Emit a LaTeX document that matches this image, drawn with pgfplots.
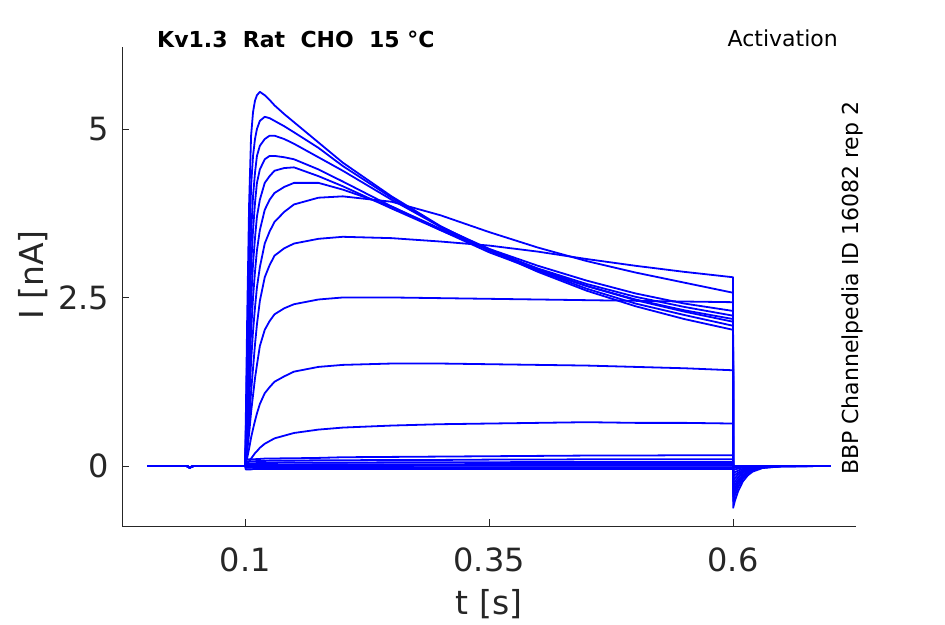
\documentclass[border=0pt]{standalone}
\usepackage{pgfplots}
\pgfplotsset{compat=1.18}
\usepackage{pgfplotstable}
\usepackage{fontspec}
\setmainfont{DejaVu Sans}
\definecolor{tc}{RGB}{38,38,38}
\definecolor{tr}{RGB}{0,0,255}

\pgfplotstableread{
x c1 c2 c3 c4 c5 c6 c7 c8 c9 c10 c11 c12 c13 c14 c15 c16 c17 c18
0 0 0 0 0 0 0 0 0 0 0 0 0 0 0 0 0 0 0
0.040 0 0 0 0 0 0 0 0 0 0 0 0 0 0 0 0 0 0
0.043 -0.025 -0.025 -0.02 -0.025 -0.02 -0.025 -0.02 -0.025 -0.02 -0.025 -0.02 -0.025 -0.02 -0.025 -0.02 -0.025 -0.02 -0.025
0.047 0 0 0 0 0 0 0 0 0 0 0 0 0 0 0 0 0 0
0.0999 0 0 0 0 0 0 0 0 0 0 0 0 0 0 0 0 0 0
0.1005 0.6 0.45 0.35 0.28 0.2 0.15 0.12 0.08 0.05 0.03 0.01 0.09 0.06 0.035 0.015 -0.005 -0.025 -0.05
0.102 2.2 1.7 1.3 1.0 0.8 0.6 0.45 0.3 0.22 0.12 0.03 0.095 0.065 0.04 0.015 -0.005 -0.025 -0.05
0.104 3.9 3.1 2.5 2.0 1.6 1.25 0.95 0.65 0.48 0.26 0.07 0.1 0.07 0.04 0.02 0 -0.025 -0.05
0.106 4.9 4.15 3.45 2.95 2.45 2.0 1.55 1.1 0.8 0.42 0.11 0.1 0.07 0.04 0.02 0 -0.025 -0.05
0.108 5.25 4.6 4.0 3.5 3.0 2.5 2.0 1.45 1.05 0.55 0.15 0.1 0.07 0.04 0.02 0 -0.02 -0.045
0.110 5.42 4.85 4.35 3.9 3.38 2.88 2.35 1.8 1.3 0.67 0.19 0.1 0.07 0.04 0.02 0 -0.02 -0.045
0.112 5.5 5.0 4.6 4.2 3.7 3.2 2.65 2.1 1.5 0.78 0.22 0.105 0.075 0.045 0.02 0 -0.02 -0.045
0.115 5.55 5.12 4.75 4.4 3.95 3.5 2.95 2.45 1.78 0.92 0.27 0.105 0.075 0.045 0.02 0 -0.02 -0.045
0.12 5.5 5.18 4.85 4.55 4.2 3.8 3.3 2.8 2.02 1.08 0.33 0.11 0.075 0.045 0.02 0 -0.02 -0.045
0.125 5.43 5.16 4.9 4.6 4.3 3.95 3.48 2.98 2.15 1.17 0.37 0.11 0.08 0.045 0.02 0 -0.02 -0.045
0.13 5.35 5.12 4.9 4.6 4.38 4.05 3.62 3.12 2.25 1.25 0.41 0.11 0.08 0.045 0.02 0 -0.02 -0.045
0.14 5.22 5.04 4.85 4.58 4.42 4.14 3.77 3.23 2.34 1.33 0.45 0.115 0.08 0.05 0.02 0 -0.02 -0.045
0.15 5.1 4.95 4.78 4.55 4.43 4.2 3.88 3.3 2.4 1.4 0.49 0.115 0.08 0.05 0.02 0 -0.02 -0.045
0.175 4.8 4.72 4.58 4.4 4.3 4.2 3.98 3.37 2.47 1.47 0.54 0.12 0.085 0.05 0.025 0 -0.02 -0.045
0.2 4.5 4.45 4.38 4.22 4.15 4.1 4.0 3.4 2.5 1.5 0.57 0.13 0.085 0.05 0.025 0 -0.02 -0.045
0.25 4.0 3.98 3.95 3.85 3.82 3.85 3.92 3.38 2.5 1.52 0.6 0.135 0.09 0.055 0.025 0 -0.02 -0.045
0.3 3.56 3.55 3.55 3.5 3.5 3.52 3.72 3.33 2.49 1.52 0.62 0.14 0.09 0.055 0.025 0.005 -0.02 -0.045
0.35 3.2 3.2 3.22 3.17 3.2 3.22 3.47 3.27 2.48 1.51 0.63 0.145 0.095 0.055 0.03 0.005 -0.02 -0.045
0.4 2.88 2.9 2.92 2.9 2.93 2.97 3.24 3.18 2.47 1.5 0.64 0.15 0.095 0.06 0.03 0.005 -0.02 -0.045
0.45 2.6 2.63 2.67 2.67 2.7 2.75 3.04 3.07 2.46 1.49 0.65 0.155 0.1 0.06 0.03 0.005 -0.02 -0.045
0.5 2.37 2.41 2.46 2.47 2.51 2.56 2.87 2.97 2.45 1.47 0.64 0.155 0.1 0.06 0.03 0.005 -0.02 -0.045
0.55 2.18 2.24 2.29 2.31 2.36 2.41 2.72 2.88 2.44 1.45 0.64 0.16 0.1 0.06 0.03 0.005 -0.02 -0.045
0.6 2.02 2.08 2.14 2.18 2.23 2.3 2.57 2.8 2.43 1.42 0.63 0.16 0.1 0.06 0.03 0.005 -0.02 -0.045
0.6001 -0.62 -0.52 -0.45 -0.4 -0.34 -0.28 -0.22 -0.16 -0.11 -0.06 -0.03 -0.01 0 -0.01 0 0.01 0 -0.01
0.602 -0.51 -0.43 -0.37 -0.33 -0.28 -0.23 -0.18 -0.13 -0.09 -0.05 -0.025 0 0 0 0 0 0 0
0.605 -0.38 -0.32 -0.27 -0.24 -0.21 -0.17 -0.13 -0.10 -0.07 -0.04 -0.02 0 0 0 0 0 0 0
0.61 -0.23 -0.19 -0.17 -0.15 -0.13 -0.10 -0.08 -0.06 -0.04 -0.02 -0.01 0 0 0 0 0 0 0
0.615 -0.14 -0.11 -0.10 -0.09 -0.075 -0.06 -0.05 -0.035 -0.025 -0.013 -0.007 0 0 0 0 0 0 0
0.62 -0.084 -0.07 -0.06 -0.054 -0.046 -0.038 -0.03 -0.022 -0.015 -0.008 -0.004 0 0 0 0 0 0 0
0.63 -0.031 -0.026 -0.022 -0.02 -0.017 -0.014 -0.011 -0.008 -0.006 -0.003 -0.002 0 0 0 0 0 0 0
0.65 -0.004 -0.004 -0.003 -0.003 -0.002 -0.002 -0.002 -0.001 -0.001 0 0 0 0 0 0 0 0 0
0.7 0 0 0 0 0 0 0 0 0 0 0 0 0 0 0 0 0 0
}\traces

\begin{document}
\begin{tikzpicture}
\useasboundingbox (0pt,0pt) rectangle (945pt,624pt);
\begin{axis}[
  at={(122.3pt,98pt)}, anchor=south west,
  scale only axis, width=733.7pt, height=479.3pt,
  xmin=-0.026, xmax=0.726, ymin=-0.89, ymax=6.22,
  axis x line*=bottom, axis y line*=left,
  axis line style={-, color=tc, line width=0.8pt},
  xtick={0.1,0.35,0.6}, xticklabels={0.1,0.35,0.6},
  ytick={0,2.5,5}, yticklabels={0,2.5,5},
  tick align=inside, major tick length=7pt,
  tick style={color=tc, line width=0.8pt},
  ticklabel style={font=\fontsize{32}{38}\selectfont, color=tc, inner sep=0pt},
  xticklabel style={anchor=north, yshift=-22pt},
  yticklabel style={anchor=east, xshift=-13pt},
  xlabel={t [s]}, ylabel={I [nA]},
  label style={font=\fontsize{33}{40}\selectfont, color=tc, inner sep=0pt},
  xlabel style={at={(axis description cs:0.5,-0.163)}, anchor=center},
  ylabel style={at={(axis description cs:-0.1217,0.5237)}, anchor=center, rotate=0},
]
\pgfplotsinvokeforeach{1,...,18}{
  \addplot[color=tr, solid, no markers, line width=1.8pt, line join=round] table[x=x, y=c#1] {\traces};
}
\end{axis}
\node[anchor=base west, inner sep=0pt, font=\bfseries\fontsize{22}{26}\selectfont] at (157pt,576.5pt) {Kv1.3\ \ Rat\ \ CHO\ \ 15 °C};
\node[anchor=base west, inner sep=0pt, font=\fontsize{22}{26}\selectfont] at (727.5pt,577.3pt) {Activation};
\node[rotate=90, anchor=base west, inner sep=0pt, font=\fontsize{22}{26}\selectfont] at (858pt,149pt) {BBP Channelpedia ID 16082 rep 2};
\end{tikzpicture}
\end{document}
